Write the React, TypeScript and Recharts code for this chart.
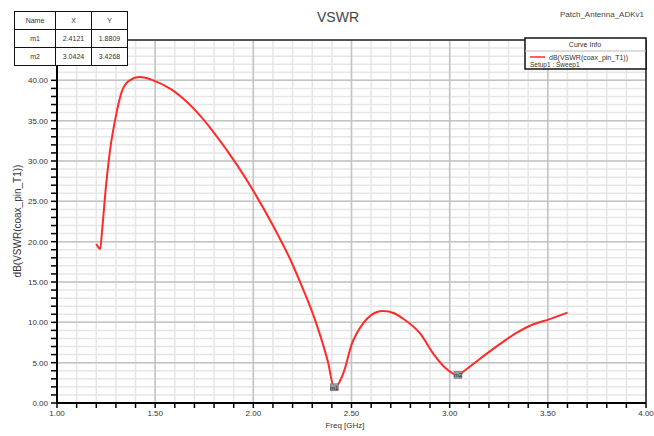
import { CartesianGrid, Line, LineChart, ReferenceDot, XAxis, YAxis } from "recharts";

// S-parameter sweep
const freqGHz = [
  1.2, 1.22, 1.23, 1.25, 1.27, 1.3, 1.33, 1.37, 1.42, 1.49, 1.58, 1.7, 1.8, 1.92, 2.0, 2.1, 2.19, 2.25, 2.32, 2.38,
  2.412, 2.46, 2.5, 2.56, 2.6, 2.66, 2.72, 2.76, 2.85, 2.92, 2.98, 3.042, 3.07, 3.15, 3.25, 3.34, 3.42, 3.51, 3.6,
];
const vswrDb = [
  19.7, 19.1, 21.5, 27.0, 31.3, 35.6, 38.6, 40.0, 40.4, 40.0, 38.9, 36.4, 33.5, 29.4, 26.3, 22.0, 17.7, 14.3, 9.9, 5.1,
  1.88, 3.8, 7.2, 9.9, 10.9, 11.4, 11.1, 10.5, 8.6, 6.0, 4.3, 3.43, 3.9, 5.4, 7.2, 8.7, 9.7, 10.4, 11.2,
];

const markerNames = ["m1", "m2"];
const markerX = [2.4121, 3.0424];
const markerY = [1.8809, 3.4268];

const xMajorTicks = [1.0, 1.5, 2.0, 2.5, 3.0, 3.5, 4.0];
const yMajorTicks = [0, 5, 10, 15, 20, 25, 30, 35, 40];

const xMinorTicks = Array.from({ length: 31 }, (_, i) => Math.round(10 + i) / 10);
const yMinorTicks = Array.from({ length: 41 }, (_, i) => i);
const yGridMinor = Array.from({ length: 46 }, (_, i) => i);

const data = freqGHz.map((f, i) => ({ f, v: vswrDb[i] }));

const FONT = "'Liberation Sans', Arial, sans-serif";

function XTick({ x, y, payload }: any) {
  const v = payload.value;
  if (!xMajorTicks.some((t) => Math.abs(t - v) < 1e-6)) return null;
  return (
    <text x={x} y={y + 6} textAnchor="middle" fontSize={8} fill="#333" fontFamily={FONT}>
      {v.toFixed(2)}
    </text>
  );
}

function YTick({ x, y, payload }: any) {
  const v = payload.value;
  if (!yMajorTicks.includes(v)) return null;
  return (
    <text x={x - 1} y={y + 3} textAnchor="end" fontSize={8} fill="#333" fontFamily={FONT}>
      {v.toFixed(2)}
    </text>
  );
}

function MarkerShape({ cx, cy, name }: any) {
  return (
    <g>
      <rect x={cx - 4} y={cy - 4} width={8} height={7} fill="#9a9a9a" stroke="#666" strokeWidth={0.5} />
      <text x={cx} y={cy + 2} textAnchor="middle" fontSize={6} fill="#222" fontFamily={FONT}>
        {name}
      </text>
    </g>
  );
}

const cell: React.CSSProperties = {
  border: "1.5px solid #111",
  fontSize: 7,
  textAlign: "center",
  padding: 0,
  height: 17,
  color: "#333",
};

export default function App() {
  return (
    <div style={{ position: "absolute", left: 0, top: 0, width: 654, height: 436, background: "#fff", fontFamily: FONT }}>
      <LineChart width={654} height={436} data={data} margin={{ top: 40, right: 8, bottom: 1, left: 7 }}>
        <CartesianGrid stroke="#e6e6e6" strokeWidth={1.5} verticalValues={xMinorTicks} horizontalValues={yGridMinor} />
        <CartesianGrid stroke="#c4c4c4" strokeWidth={1.5} verticalValues={xMajorTicks} horizontalValues={yMajorTicks} />
        <CartesianGrid stroke="#222" strokeWidth={1.5} verticalValues={[4]} horizontalValues={[45]} />
        <XAxis
          type="number"
          dataKey="f"
          domain={[1, 4]}
          ticks={xMinorTicks}
          interval={0}
          height={32}
          axisLine={{ stroke: "#000", strokeWidth: 2 }}
          tickLine={{ stroke: "#000", strokeWidth: 1.5 }}
          tickSize={5}
          tick={<XTick />}
        />
        <YAxis
          type="number"
          domain={[0, 45]}
          ticks={yMinorTicks}
          interval={0}
          width={50}
          axisLine={{ stroke: "#000", strokeWidth: 2 }}
          tickLine={{ stroke: "#000", strokeWidth: 1.5 }}
          tickSize={6}
          tick={<YTick />}
        />
        <Line
          type="monotone"
          dataKey="v"
          stroke="#ff2a2a"
          strokeWidth={2}
          dot={false}
          isAnimationActive={false}
        />
        {markerNames.map((n, i) => (
          <ReferenceDot key={n} x={markerX[i]} y={markerY[i]} r={4} shape={(p: any) => <MarkerShape {...p} name={n} />} />
        ))}
      </LineChart>

      <svg width={654} height={436} style={{ position: "absolute", left: 0, top: 0, pointerEvents: "none" }}>
        <line x1={57} y1={40} x2={57} y2={69} stroke="#000" strokeWidth={2} />
        <text x={338} y={22} textAnchor="middle" fontSize={14} fill="#444" fontFamily={FONT}>
          VSWR
        </text>
        <text x={644} y={17} textAnchor="end" fontSize={8} fill="#444" fontFamily={FONT}>
          Patch_Antenna_ADKv1
        </text>
        <text x={345} y={428} textAnchor="middle" fontSize={8} fill="#333" fontFamily={FONT}>
          Freq [GHz]
        </text>
        <text
          transform="translate(21,221) rotate(-90)"
          textAnchor="middle"
          fontSize={10}
          fill="#333"
          fontFamily={FONT}
        >
          dB(VSWR(coax_pin_T1))
        </text>
        {/* curve info box */}
        <rect x={525} y={38} width={121} height={31} fill="#fff" stroke="#111" strokeWidth={1.5} />
        <line x1={525} y1={51} x2={646} y2={51} stroke="#bbb" strokeWidth={1} />
        <text x={585} y={47} textAnchor="middle" fontSize={7} fill="#333" fontFamily={FONT}>
          Curve Info
        </text>
        <line x1={530} y1={57} x2={545} y2={57} stroke="#ff2a2a" strokeWidth={1.5} />
        <text x={549} y={59.5} fontSize={7} fill="#333" fontFamily={FONT}>
          dB(VSWR(coax_pin_T1))
        </text>
        <text x={530} y={67} fontSize={6.5} fill="#333" fontFamily={FONT}>
          Setup1 : Sweep1
        </text>
      </svg>

      <table
        style={{
          position: "absolute",
          left: 14,
          top: 11,
          borderCollapse: "collapse",
          background: "#fff",
          fontFamily: FONT,
        }}
      >
        <tbody>
          <tr>
            <td style={{ ...cell, width: 40 }}>Name</td>
            <td style={{ ...cell, width: 35 }}>X</td>
            <td style={{ ...cell, width: 35 }}>Y</td>
          </tr>
          {markerNames.map((n, i) => (
            <tr key={n}>
              <td style={cell}>{n}</td>
              <td style={cell}>{markerX[i].toFixed(4)}</td>
              <td style={cell}>{markerY[i].toFixed(4)}</td>
            </tr>
          ))}
        </tbody>
      </table>
    </div>
  );
}
